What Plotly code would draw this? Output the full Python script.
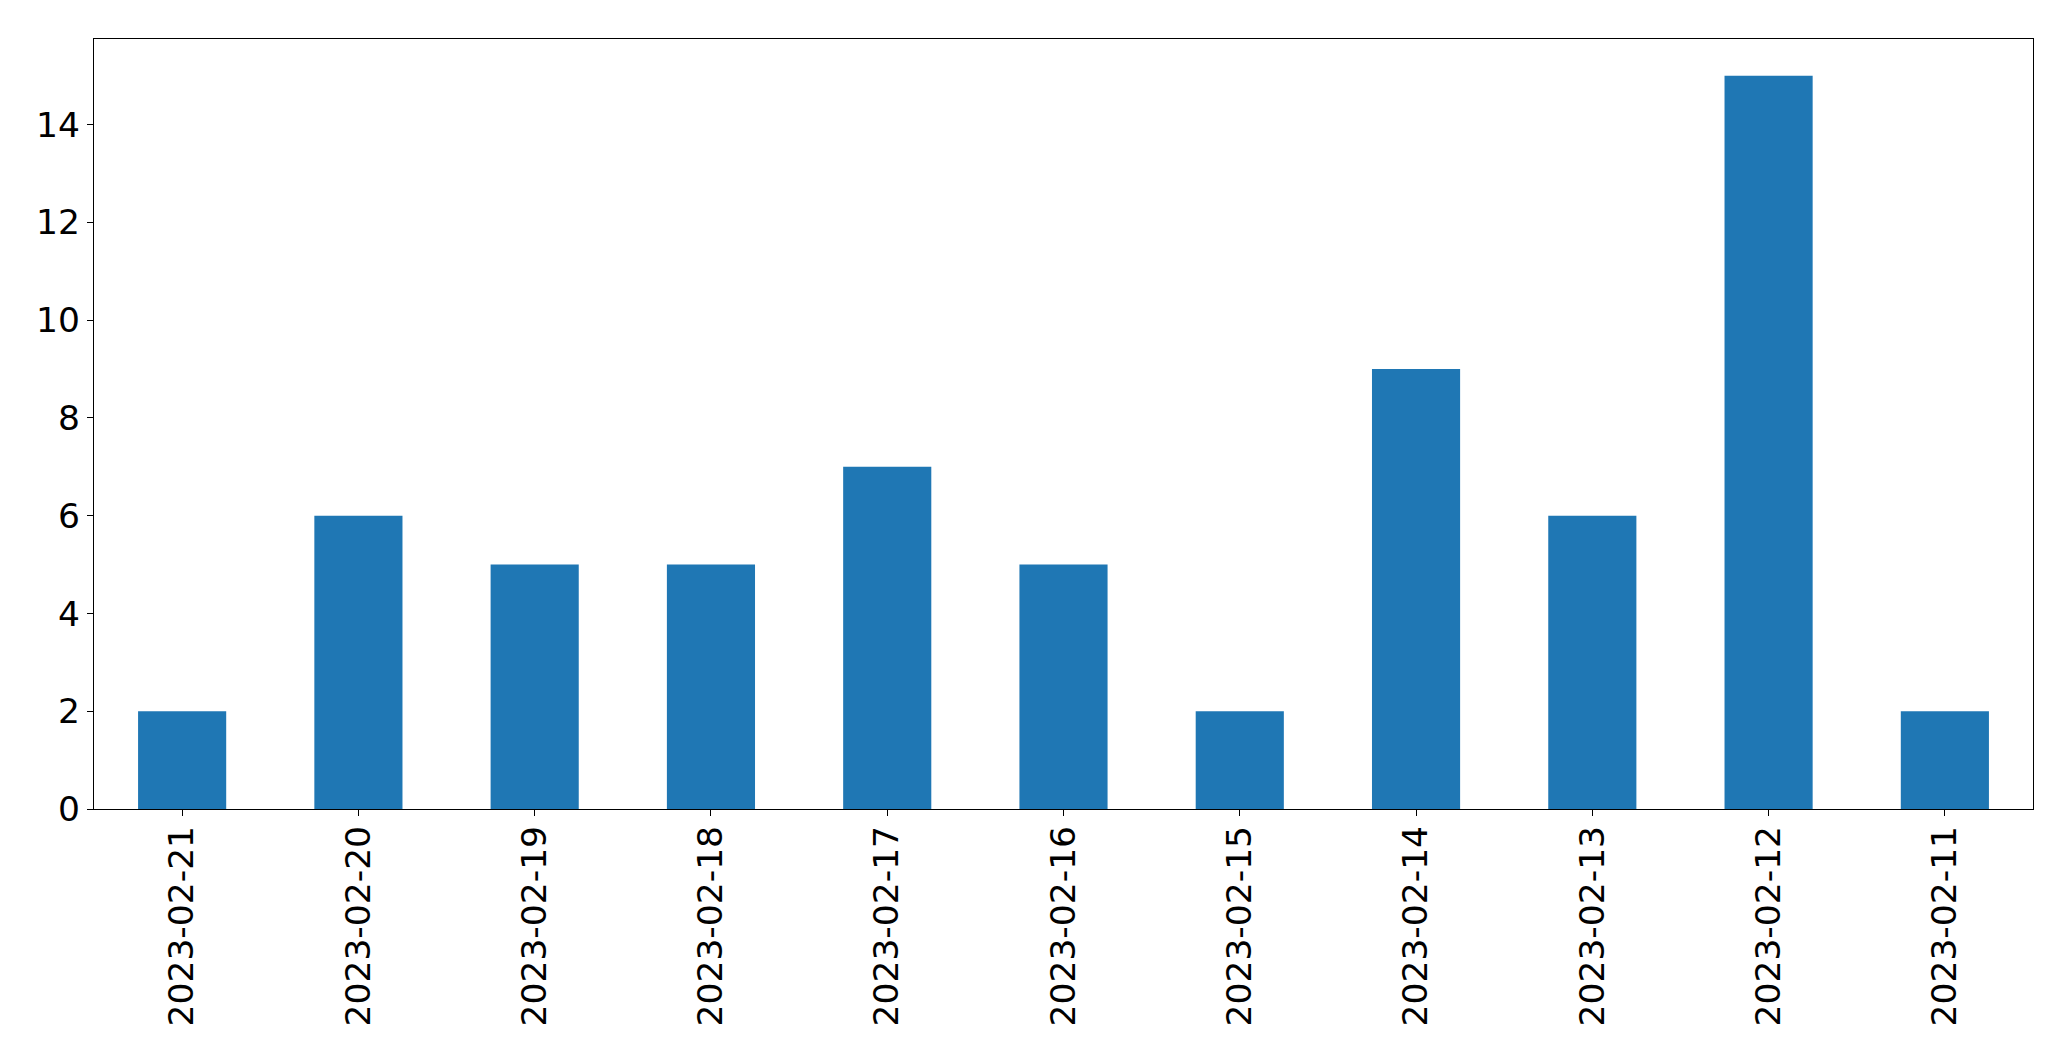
import plotly.graph_objects as go

dates = ["2023-02-21", "2023-02-20", "2023-02-19", "2023-02-18", "2023-02-17",
         "2023-02-16", "2023-02-15", "2023-02-14", "2023-02-13", "2023-02-12", "2023-02-11"]
counts = [2, 6, 5, 5, 7, 5, 2, 9, 6, 15, 2]
y_ticks = [0, 2, 4, 6, 8, 10, 12, 14]

fig = go.Figure(go.Bar(x=dates, y=counts, width=0.5, marker=dict(color="#1f77b4", line=dict(width=0))))

fig.update_layout(
    width=2063, height=1053,
    margin=dict(l=86, r=38, t=31, b=252),
    plot_bgcolor="white", paper_bgcolor="white",
    font=dict(family="DejaVu Sans", size=34.5, color="black"),
    showlegend=False,
)
fig.update_xaxes(
    type="category", range=[-0.5, 10.5], tickangle=-90, automargin=False,
    showline=True, linecolor="black", linewidth=1.3, mirror=True,
    ticks="outside", ticklen=6, tickwidth=1.3, tickcolor="black",
    ticklabelstandoff=-4,
    showgrid=False, zeroline=False,
)
fig.update_yaxes(
    range=[0, 15.75], tickvals=y_ticks, automargin=False,
    showline=True, linecolor="black", linewidth=1.3, mirror=True,
    ticks="outside", ticklen=6, tickwidth=1.3, tickcolor="black",
    showgrid=False, zeroline=False,
)

fig.write_html("out.html")
